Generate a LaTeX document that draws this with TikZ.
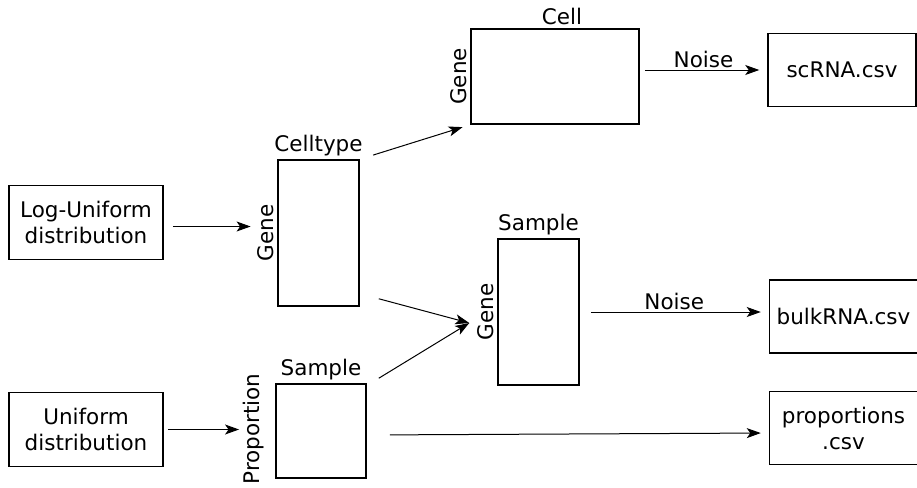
\documentclass[tikz,border=0pt]{standalone}
\usepackage{fontspec}
\setmainfont{DejaVu Sans}
\usetikzlibrary{arrows.meta, positioning, calc}

\tikzset{
  distbox/.style={draw, line width=1.5pt, minimum width=154pt, minimum height=74pt, align=center, inner sep=0pt},
  matbox/.style={draw, line width=1.5pt, inner sep=0pt, label distance=2pt},
  filebox/.style={draw, line width=1.5pt, minimum width=148pt, minimum height=73pt, align=center, inner sep=0pt},
  axislabel/.style={rotate=90, anchor=south, inner sep=3pt},
  arr/.style={line width=1pt, -{Stealth[length=14pt, width=10pt, inset=3.5pt]}},
  every label/.style={inner sep=3pt},
}

\begin{document}
\begin{tikzpicture}[x=1pt, y=-1pt, font=\fontsize{21.5}{26}\selectfont]

\useasboundingbox (0,0) rectangle (917,487);

\node[distbox] (logu) at (86,222.5) {Log-Uniform\\distribution};
\node[distbox] (unif) at (86,429.5) {Uniform\\distribution};

\node[matbox, minimum width=81pt, minimum height=146pt,
  label={above:Celltype},
  label={[name=ctg, axislabel]west:Gene}] (ct) at (318.5,233) {};
\node[matbox, minimum width=168pt, minimum height=95pt,
  label={[xshift=7pt]above:Cell},
  label={[name=cellg, axislabel]west:Gene}] (cell) at (555,76.5) {};
\node[matbox, minimum width=81pt, minimum height=146pt,
  label={above:Sample},
  label={[name=bulkg, axislabel]west:Gene}] (bulk) at (538.5,312) {};
\node[matbox, minimum width=90pt, minimum height=94pt,
  label={above:Sample}] (prop) at (321,431) {};
\node[axislabel] (propg) at ([xshift=-8pt, yshift=2pt]prop.west) {Proportion};

\node[filebox] (scrna) at (842,70) {scRNA.csv};
\node[filebox] (bulkcsv) at (843.5,316.5) {bulkRNA.csv};
\node[filebox] (propcsv) at (843.5,428) {proportions\\.csv};

\coordinate (bulkin) at ([shift={(-28,11)}]bulk.west);

\draw[arr, shorten <=9pt, shorten >=4pt] ([yshift=-4pt]logu.east) -- ([yshift=-4pt]logu.east -| ctg.north);
\draw[arr, shorten <=4pt, shorten >=1pt] (unif.east) -- (unif.east -| propg.north);

\draw[arr, shorten <=14pt, shorten >=8pt] (ct.north east) -- (cell.south west);
\draw[arr] ([shift={(19,-8)}]ct.south east) -- (bulkin);
\draw[arr] ([shift={(12,-5)}]prop.north east) -- (bulkin);

\draw[arr, shorten <=5pt, shorten >=8pt] (cell.east |- scrna.west) -- (scrna.west)
  node[midway, above, inner sep=2pt] {Noise};
\draw[arr, shorten <=11pt, shorten >=8pt] (bulk.east) -- (bulk.east -| bulkcsv.west)
  node[midway, above, inner sep=2pt] {Noise};
\draw[arr, shorten <=23pt, shorten >=8pt] ([yshift=-4pt]prop.east) -- ([yshift=-5pt]propcsv.west);

\end{tikzpicture}
\end{document}
